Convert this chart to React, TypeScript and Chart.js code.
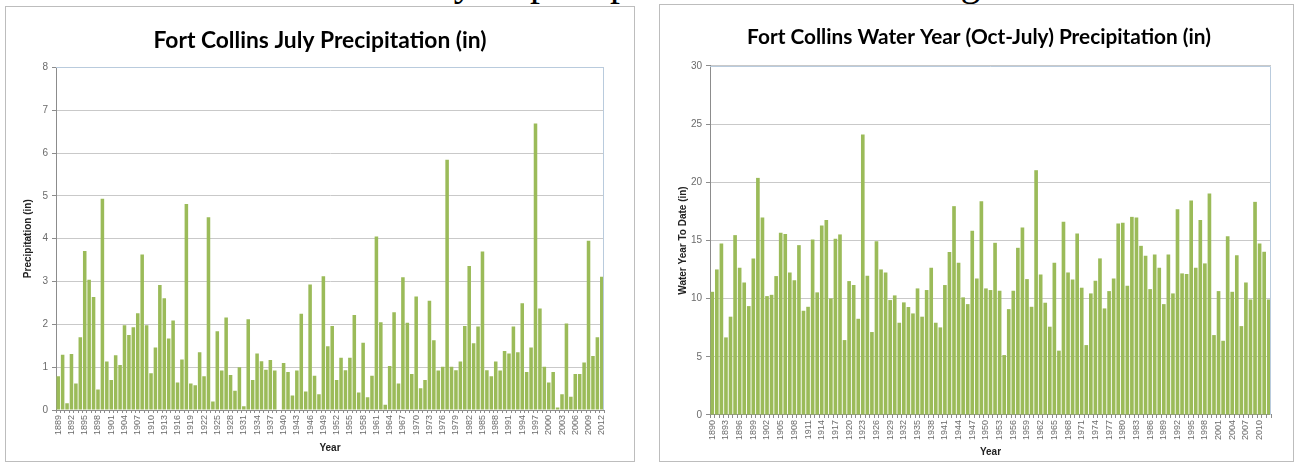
import React, { useEffect, useRef } from 'react';
import { Chart, registerables } from 'chart.js';

Chart.register(...registerables);

// ---------- data ----------
const julyYears: string[] = Array.from({ length: 124 }, (_, i) => String(1889 + i));
const julyPrecip: number[] = [
  0.79, 1.29, 0.16, 1.31, 0.62, 1.70, 3.71, 3.04, 2.64, 0.48, 4.93,
  1.13, 0.70, 1.28, 1.05, 1.98, 1.75, 1.93, 2.26, 3.63, 1.98,
  0.86, 1.46, 2.92, 2.61, 1.67, 2.09, 0.64, 1.18, 4.81, 0.62,
  0.58, 1.35, 0.79, 4.50, 0.20, 1.84, 0.92, 2.16, 0.82, 0.45,
  1.00, 0.09, 2.12, 0.70, 1.32, 1.14, 0.94, 1.17, 0.92, 0.00,
  1.10, 0.89, 0.34, 0.92, 2.25, 0.43, 2.93, 0.80, 0.37, 3.12,
  1.49, 1.96, 0.70, 1.22, 0.93, 1.22, 2.22, 0.41, 1.57, 0.30,
  0.80, 4.05, 2.05, 0.12, 1.03, 2.28, 0.62, 3.10, 2.04, 0.84,
  2.65, 0.51, 0.70, 2.55, 1.63, 0.92, 1.01, 5.84, 1.01, 0.93,
  1.13, 1.96, 3.36, 1.56, 1.95, 3.70, 0.93, 0.79, 1.13, 0.92,
  1.38, 1.32, 1.95, 1.35, 2.49, 0.89, 1.46, 6.69, 2.37, 1.01,
  0.64, 0.89, 0.06, 0.37, 2.02, 0.31, 0.84, 0.84, 1.11, 3.95,
  1.26, 1.70, 3.11,
];
const julyTickLabels: string[] = julyYears.filter((_, i) => i % 3 === 0);

const waterYears: string[] = Array.from({ length: 123 }, (_, i) => String(1890 + i));
const waterPrecip: number[] = [
  10.59, 12.51, 14.74, 6.67, 8.45, 15.46, 12.65, 11.39, 9.36, 13.46,
  20.38, 16.98, 10.22, 10.33, 11.94, 15.66, 15.55, 12.25, 11.59, 14.60,
  8.96, 9.30, 15.09, 10.54, 16.29, 16.75, 10.02, 15.14, 15.52, 6.44,
  11.51, 11.17, 8.27, 24.10, 11.97, 7.13, 14.94, 12.51, 12.25, 9.88,
  10.28, 7.93, 9.68, 9.28, 8.73, 10.88, 8.45, 10.74, 12.65, 7.93,
  7.53, 11.17, 14.00, 17.95, 13.08, 10.11, 9.53, 15.83, 11.74, 18.38,
  10.88, 10.74, 14.80, 10.68, 5.15, 9.10, 10.68, 14.37, 16.12, 11.68,
  9.30, 21.04, 12.08, 9.65, 7.59, 13.08, 5.53, 16.60, 12.25, 11.65,
  15.60, 10.94, 6.01, 10.45, 11.54, 13.46, 9.16, 10.65, 11.74, 16.46,
  16.52, 11.11, 17.03, 16.98, 14.54, 13.68, 10.82, 13.80, 12.65, 9.53,
  13.80, 10.45, 17.69, 12.17, 12.11, 18.44, 12.65, 16.75, 13.03, 19.04,
  6.87, 10.65, 6.38, 15.37, 10.59, 13.74, 7.64, 11.39, 9.93, 18.32,
  14.74, 14.03, 9.93,
];
const waterTickLabels: string[] = waterYears.filter((_, i) => i % 3 === 0);

// ---------- styling ----------
const BAR = '#9bbb59';
const GRID = '#c9c9c9';
const AXIS = '#8c8c8c';
const TICK_TXT = '#6b6b6b';
const FRAME = '#b9cbdd';
const FONT = "'Liberation Sans', Arial, sans-serif";
const TITLE_FONT = "Lato, 'Liberation Sans', sans-serif";

const framePlugin = {
  id: 'plotFrame',
  afterDatasetsDraw(chart: any) {
    const { ctx, chartArea: a } = chart;
    ctx.save();
    ctx.strokeStyle = FRAME;
    ctx.lineWidth = 1;
    ctx.beginPath();
    ctx.moveTo(a.left, Math.round(a.top) + 0.5);
    ctx.lineTo(Math.round(a.right) - 0.5, Math.round(a.top) + 0.5);
    ctx.lineTo(Math.round(a.right) - 0.5, a.bottom);
    ctx.stroke();
    ctx.restore();
  },
};

interface Spec {
  labels: string[];
  values: number[];
  shown: string[];
  title: string;
  titleSize: number;
  yTitle: string;
  yMax: number;
  yStep: number;
  padLeft: number;
  padRight: number;
  padTop: number;
  titleGap: number;
  yScaleWidth: number;
  xScaleHeight: number;
  yTitlePad: number;
  xTitlePad: number;
}

function makeChart(canvas: HTMLCanvasElement, s: Spec) {
  const shownSet = new Set(s.shown);
  return new Chart(canvas, {
    type: 'bar',
    data: {
      labels: s.labels,
      datasets: [
        {
          data: s.values,
          backgroundColor: BAR,
          borderWidth: 0,
          barPercentage: 0.8,
          categoryPercentage: 1.0,
        },
      ],
    },
    plugins: [framePlugin],
    options: {
      responsive: false,
      animation: false,
      layout: { padding: { left: s.padLeft, right: s.padRight, top: s.padTop, bottom: 0 } },
      plugins: {
        legend: { display: false },
        tooltip: { enabled: false },
        title: {
          display: true,
          text: s.title,
          color: '#000',
          font: { family: TITLE_FONT, size: s.titleSize, weight: 'bold' },
          padding: { top: 0, bottom: s.titleGap },
        },
      },
      scales: {
        x: {
          offset: true,
          grid: {
            display: true,
            offset: true,
            drawOnChartArea: false,
            drawTicks: true,
            tickLength: 3,
            color: AXIS,
          },
          border: { display: true, color: AXIS },
          ticks: {
            autoSkip: false,
            minRotation: 90,
            maxRotation: 90,
            padding: 2,
            color: TICK_TXT,
            font: { family: FONT, size: 9 },
            callback: (_v: any, i: number) => (shownSet.has(s.labels[i]) ? s.labels[i] : ''),
          },
          title: {
            display: true,
            text: 'Year',
            color: '#222',
            font: { family: FONT, size: 10, weight: 'bold' },
            padding: { top: 2, bottom: s.xTitlePad },
          },
          afterFit: (scale: any) => {
            scale.height = s.xScaleHeight;
          },
        },
        y: {
          min: 0,
          max: s.yMax,
          grid: {
            color: GRID,
            drawTicks: true,
            tickLength: 4,
            tickColor: AXIS,
          },
          border: { display: true, color: AXIS },
          ticks: {
            stepSize: s.yStep,
            padding: 4,
            color: TICK_TXT,
            font: { family: FONT, size: 10 },
          },
          title: {
            display: true,
            text: s.yTitle,
            color: '#222',
            font: { family: FONT, size: 10, weight: 'bold' },
            padding: { top: s.yTitlePad, bottom: 0 },
          },
          afterFit: (scale: any) => {
            scale.width = s.yScaleWidth;
          },
        },
      },
    },
  } as any);
}

export default function App() {
  const leftRef = useRef<HTMLCanvasElement>(null);
  const rightRef = useRef<HTMLCanvasElement>(null);

  useEffect(() => {
    const a = makeChart(leftRef.current!, {
      labels: julyYears,
      values: julyPrecip,
      shown: julyTickLabels,
      title: 'Fort Collins July Precipitation (in)',
      titleSize: 22.8,
      yTitle: 'Precipitation (in)',
      yMax: 8,
      yStep: 1,
      padLeft: 30,
      padRight: 29,
      padTop: 20,
      titleGap: 13,
      yScaleWidth: 20,
      xScaleHeight: 50,
      yTitlePad: -14,
      xTitlePad: 6,
    });
    const b = makeChart(rightRef.current!, {
      labels: waterYears,
      values: waterPrecip,
      shown: waterTickLabels,
      title: 'Fort Collins Water Year (Oct-July) Precipitation (in)',
      titleSize: 20.8,
      yTitle: 'Water Year To Date (in)',
      yMax: 30,
      yStep: 5,
      padLeft: 27,
      padRight: 21,
      padTop: 20,
      titleGap: 16,
      yScaleWidth: 23,
      xScaleHeight: 45,
      yTitlePad: -10,
      xTitlePad: 2,
    });
    return () => {
      a.destroy();
      b.destroy();
    };
  }, []);

  const serif: React.CSSProperties = {
    position: 'absolute',
    top: -38,
    fontFamily: "'Liberation Serif', 'Times New Roman', serif",
    fontSize: 40,
    lineHeight: '40px',
    color: '#000',
    whiteSpace: 'nowrap',
  };

  return (
    <div
      style={{
        position: 'fixed',
        left: 0,
        top: 0,
        width: 1298,
        height: 463,
        background: '#fff',
        overflow: 'hidden',
      }}
    >
      <span style={{ ...serif, left: 407 }}>July</span>
      <span style={{ ...serif, left: 530 }}>precipitation</span>
      <span style={{ ...serif, left: 876 }}>through</span>
      <div
        style={{
          position: 'absolute',
          left: 5,
          top: 6,
          width: 630,
          height: 456,
          border: '1px solid #bdbdbd',
          boxSizing: 'border-box',
        }}
      />
      <div
        style={{
          position: 'absolute',
          left: 659,
          top: 4,
          width: 635,
          height: 458,
          border: '1px solid #bdbdbd',
          boxSizing: 'border-box',
        }}
      />
      <canvas
        ref={leftRef}
        width={627}
        height={453}
        style={{ position: 'absolute', left: 6, top: 7, width: 627, height: 453 }}
      />
      <canvas
        ref={rightRef}
        width={632}
        height={455}
        style={{ position: 'absolute', left: 660, top: 5, width: 632, height: 455 }}
      />
    </div>
  );
}
